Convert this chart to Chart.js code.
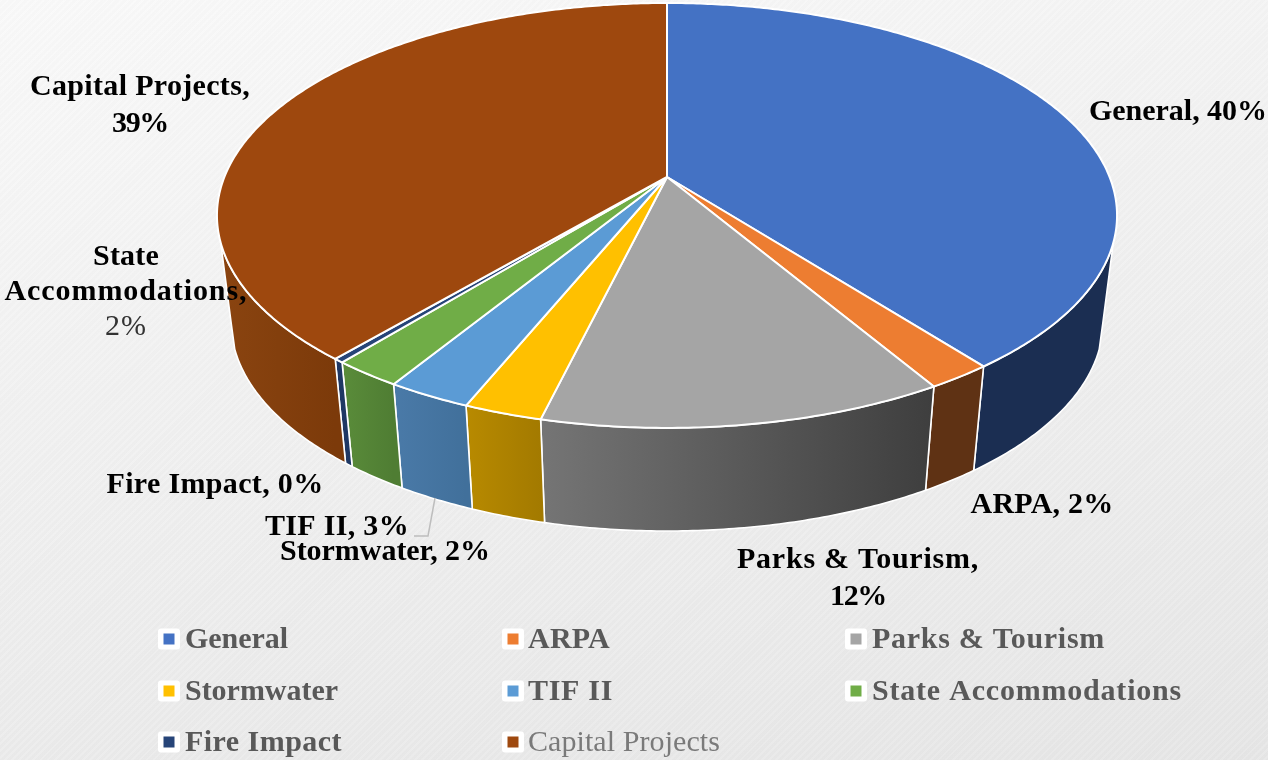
<!DOCTYPE html>
<html>
<head>
<meta charset="utf-8">
<script src="https://cdn.jsdelivr.net/npm/chart.js@4"></script>
<style>
html,body{margin:0;padding:0;width:1268px;height:760px;overflow:hidden}
body{background:
 repeating-linear-gradient(135deg,rgba(255,255,255,.10) 0 2px,rgba(0,0,0,.006) 2px 5px),
 linear-gradient(168deg,#f9f9f9 0%,#f1f1f1 40%,#e6e6e6 100%);}
canvas{display:block}
</style>
</head>
<body>
<canvas id="c" width="1268" height="760"></canvas>
<script>
const categories = ["General","ARPA","Parks & Tourism","Stormwater","TIF II","State Accommodations","Fire Impact","Capital Projects"];
const shares = [39.5,2.0,12.28,2.39,2.58,2.12,0.31,38.82];
const topColors = ["#4472C4","#ED7D31","#A5A5A5","#FFC000","#5B9BD5","#70AD47","#264478","#9E480E"];
const wallLeft  = ["#1b2e52","#5f3214","#757575","#b88a00","#4a7aa8","#5a8c3a","#1f3864","#8a4410"];
const wallRight = ["#1b2e52","#5f3214","#3e3e3e","#a37a00","#41709b","#4f7d33","#1f3864","#7c3a0a"];

const labelCenters = [1178,1042,858,385,337,126,215,140];
const labelBaselines = [120,513,568,560,535,265,493,95];
const labelWidths = [[178],[143],[242,56],[210],[144],[66,243,42],[217],[220,56]];
const legendWidths = [103,82,233,153,85,310,157,192];
const legendCols = [158,502,845];
const legendTextCols = [185,528,872];
const legendRows = [639,691,742];

function pct(i){ return Math.round(shares[i])+"%"; }
function labelLines(i){
  const n = categories[i];
  if(i===2||i===7) return [[n+",",true],[pct(i),true]];
  if(i===5) return [["State",true],["Accommodations,",true],[pct(i),false]];
  return [[n+", "+pct(i),true]];
}

const perspective = {
  id:'perspective',
  beforeDatasetDraw(chart,args){
    const ctx = chart.ctx, arcs = chart.getDatasetMeta(args.index).data;
    const a0 = arcs[0], cx = a0.x, cy = a0.y, R = a0.outerRadius;
    const K = 0.181, A = 2.5006*R, B = 1.161*R, HW = 2.5424*R;
    const LOW_W = 2.463*R, LOW_H = 1.181*R, LOW_Y = cy+0.8192*R, MID_Y = cy+0.2175*R;
    const VIS0 = 0.309, VIS1 = Math.PI-0.309;
    const top = t=>{
      const u=Math.cos(t), v=Math.sin(t), w=1-K*v;
      return [cx+A*u/w, cy+B*v/w];
    };
    const low = t=>{
      const p=top(t), c=Math.max(-1,Math.min(1,(p[0]-cx)/HW));
      const sn=Math.sqrt(1-c*c)*(p[1]>=MID_Y?1:-1);
      return [cx+LOW_W*c, LOW_Y+LOW_H*sn];
    };
    const path = (fn,s,e,first)=>{
      const n=Math.max(2,Math.ceil(Math.abs(e-s)/0.01));
      for(let i=0;i<=n;i++){
        const q=fn(s+(e-s)*i/n);
        if(i===0&&first) ctx.moveTo(q[0],q[1]); else ctx.lineTo(q[0],q[1]);
      }
    };
    ctx.save();
    ctx.lineJoin='round';
    arcs.forEach((a,i)=>{
      const s=Math.max(a.startAngle,VIS0), e=Math.min(a.endAngle,VIS1);
      if(e<=s) return;
      const x0=Math.min(top(s)[0],top(e)[0]), x1=Math.max(top(s)[0],top(e)[0]);
      const g=ctx.createLinearGradient(x0,0,x1,0);
      g.addColorStop(0,wallLeft[i]);g.addColorStop(1,wallRight[i]);
      ctx.beginPath();
      path(top,s,e,true);
      if(a.endAngle>VIS1) ctx.lineTo(cx-LOW_W,LOW_Y);
      path(low,e,s,false);
      if(a.startAngle<VIS0) ctx.lineTo(cx+LOW_W,LOW_Y);
      ctx.closePath();
      ctx.fillStyle=g;ctx.fill();
      ctx.strokeStyle='#ffffff';ctx.lineWidth=1.6;ctx.stroke();
    });
    arcs.forEach((a,i)=>{
      ctx.beginPath();
      ctx.moveTo(cx,cy);
      path(top,a.startAngle,a.endAngle,false);
      ctx.closePath();
      ctx.fillStyle=topColors[i];ctx.fill();
      ctx.strokeStyle='#ffffff';ctx.lineWidth=2;ctx.stroke();
    });
    ctx.restore();
    return false;
  },
  afterDatasetsDraw(chart){
    const ctx=chart.ctx;
    const fit=(t,x,y,target)=>{
      ctx.letterSpacing='0px';
      const w=ctx.measureText(t).width;
      ctx.letterSpacing=((target-w)/t.length).toFixed(3)+'px';
      ctx.fillText(t,x,y);
      ctx.letterSpacing='0px';
    };
    ctx.save();
    ctx.beginPath();ctx.moveTo(435,498);ctx.lineTo(428,536);ctx.lineTo(414,536);
    ctx.strokeStyle='#bdbdbd';ctx.lineWidth=1.5;ctx.stroke();
    ctx.textAlign='center';ctx.textBaseline='alphabetic';
    categories.forEach((_,i)=>{
      labelLines(i).forEach(([t,b],j)=>{
        ctx.font=(b?'bold ':'')+'30px "Liberation Serif"';
        ctx.fillStyle=b?'#000':'#333';
        fit(t,labelCenters[i],labelBaselines[i]+j*(i===5?35:37),labelWidths[i][j]);
      });
    });
    ctx.textAlign='left';ctx.textBaseline='middle';
    categories.forEach((n,i)=>{
      const col=i%3, y=legendRows[Math.floor(i/3)], x=legendCols[col];
      ctx.fillStyle='#fff';
      ctx.beginPath();ctx.roundRect(x,y-10.5,22,21,3);ctx.fill();
      ctx.fillStyle=topColors[i];
      ctx.fillRect(x+5.5,y-5.5,11,11);
      const bold=i!==7;
      ctx.font=(bold?'bold ':'')+'30px "Liberation Serif"';
      ctx.fillStyle=bold?'#595959':'#7a7a7a';
      fit(n,legendTextCols[col],y+1,legendWidths[i]);
    });
    ctx.restore();
  }
};

new Chart(document.getElementById('c'),{
  type:'pie',
  data:{labels:categories,datasets:[{data:shares,backgroundColor:topColors,borderWidth:0}]},
  options:{
    responsive:false,
    animation:false,
    layout:{padding:{left:66,right:0,top:0,bottom:406}},
    plugins:{legend:{display:false},tooltip:{enabled:false},title:{display:false}}
  },
  plugins:[perspective]
});
</script>
</body>
</html>
